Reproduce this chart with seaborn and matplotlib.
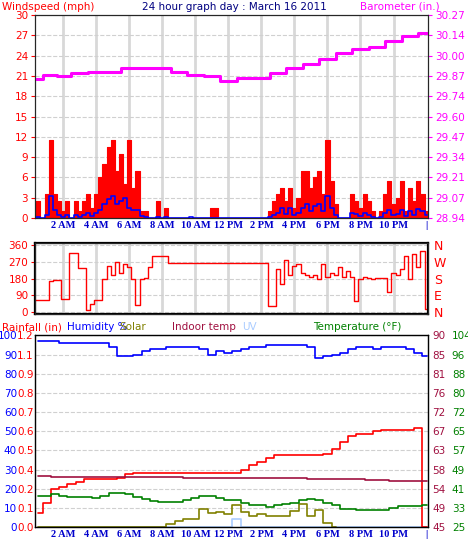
"""
24 hour weather graph, March 16 2011 - rebuilt with seaborn/matplotlib.
"""
import numpy as np
import matplotlib
matplotlib.use("Agg")
import matplotlib.pyplot as plt
import seaborn as sns

# ---- data: wind / direction at 15 min steps (0.25 .. 24 h) ----
t15 = np.arange(1, 97) * 0.25
gust = [0, 2.5, 0, 3.5, 11.5, 3.5, 2.5, 1, 2.5, 0, 2.5, 1, 2.5, 3.5, 1.5, 3.5,
        6, 8, 10.5, 11.5, 7, 9.5, 5, 11.5, 4.5, 7, 1, 1, 0, 0, 2.5, 0,
        1.5, 0, 0, 0, 0, 0, 0, 0, 0, 0, 0, 1.5, 1.5, 0, 0, 0,
        0, 0, 0, 0, 0, 0, 0, 0, 0, 1, 2.5, 3.5, 4.5, 2.5, 4.5, 1.5,
        3, 7, 7, 4.5, 6, 7, 3.5, 11.5, 5.5, 2, 0, 0, 0, 3.5, 2.5, 1.5,
        3.5, 2.5, 1, 0, 1, 3.5, 5.5, 2, 3, 5.5, 1, 4.5, 2.5, 5.5, 3.5, 1]
avg_wind = [0, 0.2, 0, 0.5, 3.3, 1.2, 0.5, 0.2, 0.5, 0, 0.4, 0.2, 0.5, 0.8, 0.3, 0.8,
            1.2, 2, 2.8, 3.3, 2, 2.5, 3, 1.5, 1.2, 1.2, 0.3, 0.2, 0, 0, 0.2, 0,
            0.2, 0, 0, 0, 0, 0, 0.1, 0, 0, 0, 0, 0, 0, 0, 0, 0,
            0, 0, 0, 0, 0, 0, 0, 0, 0, 0.2, 0.5, 0.8, 1.5, 0.6, 1.5, 0.5,
            0.8, 1.5, 2, 1, 1.8, 2, 1, 3.2, 1.5, 0.5, 0, 0, 0, 0.8, 0.6, 0.3,
            0.8, 0.4, 0.2, 0, 0.2, 0.8, 1.2, 0.5, 0.6, 1.2, 0.3, 1, 0.5, 1.3, 1, 0.5]
wind_dir = [65, 65, 65, 65, 170, 175, 175, 70, 70, 315, 315, 235, 235, 10, 45, 65,
            65, 180, 250, 200, 270, 210, 260, 240, 180, 40, 180, 185, 245, 300, 300, 300,
            300, 265, 265, 265] + [265] * 20 + [
            265, 35, 35, 230, 150, 280, 200, 250, 260, 210, 200, 190, 200, 180, 260, 190,
            210, 200, 240, 190, 220, 190, 60, 180, 190, 185, 180, 185, 185, 185, 110, 210,
            200, 230, 300, 180, 310, 240, 330, 20]

# ---- barometer, hourly (0.3 .. 24 h) ----
t_baro = [0.3, 1.3, 2, 3, 4, 5, 6, 7, 8, 9, 10, 11, 12, 13, 14, 15, 16, 17, 18, 19, 20, 21, 22, 23, 24]
baro = [29.85, 29.88, 29.87, 29.89, 29.90, 29.90, 29.92, 29.92, 29.92, 29.90, 29.88, 29.87,
        29.84, 29.86, 29.86, 29.89, 29.92, 29.95, 29.98, 30.02, 30.05, 30.06, 30.10, 30.13, 30.15]

# ---- bottom panel, 30 min steps (0.5 .. 24 h) ----
t30 = np.arange(1, 49) * 0.5
humidity = [97, 97, 97, 96, 96, 96, 96, 96, 96, 94, 89, 89, 90, 92, 93, 93,
            94, 94, 94, 94, 93, 90, 92, 91, 92, 93, 94, 94, 95, 95, 95, 95,
            95, 94, 88, 89, 90, 91, 93, 94, 94, 93, 94, 94, 94, 93, 91, 89]
rainfall = [0.09, 0.15, 0.24, 0.25, 0.27, 0.28, 0.30, 0.30, 0.30, 0.30, 0.31, 0.33, 0.34, 0.34, 0.34, 0.34,
            0.34, 0.34, 0.34, 0.34, 0.34, 0.34, 0.34, 0.34, 0.34, 0.36, 0.39, 0.41, 0.43, 0.45, 0.45, 0.45,
            0.45, 0.45, 0.45, 0.46, 0.49, 0.53, 0.57, 0.58, 0.58, 0.60, 0.61, 0.61, 0.61, 0.61, 0.62, 0.0]
indoor = [56.9, 56.9, 56.8, 56.8, 56.8, 56.8, 56.8, 56.8, 56.8, 56.8, 56.7, 56.7, 56.7, 56.7, 56.7, 56.7,
          56.7, 56.7, 56.6, 56.6, 56.6, 56.6, 56.6, 56.6, 56.6, 56.6, 56.6, 56.6, 56.5, 56.5, 56.5, 56.5,
          56.5, 56.4, 56.4, 56.4, 56.4, 56.3, 56.3, 56.2, 56.1, 56.0, 56.0, 55.9, 55.9, 55.9, 55.9, 55.9]
temperature = [37.8, 38, 38.5, 37.7, 37.3, 37.3, 37.3, 37, 37.8, 39, 39.2, 38.6, 37.5, 36.5, 35.8, 35.2,
               35.2, 35.3, 36, 37, 38, 37.8, 37, 36.2, 36, 35, 34.2, 34, 33.5, 34, 34.5, 35,
               36, 36.4, 36.2, 35, 34, 32.5, 32.5, 32, 32, 32, 32, 32.8, 33.8, 33.6, 33.8, 34.2]
solar = [0] * 16 + [1.5, 3, 4.5, 4.5, 9.5, 7.5, 8, 7, 11.5, 8, 6, 7, 6, 6, 6, 8.5,
                    12, 6, 9, 2, 0] + [None] * 11
uv = [0] * 24 + [4.5] + [0] * 23

hour_ticks = list(range(2, 23, 2)) + [24]
hour_labels = ["2 AM", "4 AM", "6 AM", "8 AM", "10 AM", "12 PM", "2 PM", "4 PM",
               "6 PM", "8 PM", "10 PM", "|"]

sns.set_style("white")
plt.rcParams["font.family"] = ["DejaVu Sans"]
FS = 7.5
XFONT = dict(family="Liberation Serif", weight="bold", size=7.5, color="#0000cc")

fig = plt.figure(figsize=(4.68, 5.59), dpi=100)
L, W = 0.075, 0.84


def style_time_axis(ax, vgrid=True, labels=True):
    ax.set_xlim(0.3, 24.1)
    ax.set_xticks(hour_ticks)
    if labels:
        ax.set_xticklabels(hour_labels, **XFONT)
    else:
        ax.set_xticklabels([])
    ax.tick_params(axis="x", length=0, pad=2)
    if vgrid:
        for h in range(2, 23, 2):
            ax.axvline(h, color="#d8d8d8", lw=2, zorder=0)
    for s in ax.spines.values():
        s.set_color("black")


# ---- top panel: wind + barometer ----
ax1 = fig.add_axes([L, 0.61, W, 0.363])
style_time_axis(ax1)
ax1.fill_between(t15, gust, step="mid", color="red", lw=0.8, zorder=2)
ax1.step(t15, avg_wind, where="mid", color="blue", lw=1.2, zorder=3)
ax1.set_ylim(0, 30)
ax1.set_yticks(range(0, 31, 3))
ax1.yaxis.grid(True, ls="--", color="#d0d0d0", lw=0.8)
ax1.tick_params(axis="y", colors="red", labelsize=FS, length=3, direction="out", left=True, pad=2)
ax1b = ax1.twinx()
sns.lineplot(x=t_baro, y=baro, ax=ax1b, color="magenta", lw=2.2, drawstyle="steps-mid")
ax1b.set_ylim(28.94, 30.27)
ax1b.set_yticks(np.linspace(28.94, 30.27, 11))
ax1b.set_yticklabels(["28.94", "29.07", "29.21", "29.34", "29.47", "29.60",
                      "29.74", "29.87", "30.00", "30.14", "30.27"])
ax1b.tick_params(axis="y", colors="magenta", labelsize=FS, length=3, direction="out", pad=2)
ax1b.set_ylabel("")
fig.text(0.005, 0.997, "Windspeed (mph)", color="red", fontsize=FS, va="top")
fig.text(0.5, 0.997, "24 hour graph day : March 16 2011", color="#000080", fontsize=FS,
         va="top", ha="center")
fig.text(0.94, 0.997, "Barometer (in.)", color="magenta", fontsize=FS, va="top", ha="right")

# ---- middle panel: wind direction ----
ax2 = fig.add_axes([L, 0.438, W, 0.127])
style_time_axis(ax2, labels=False)
ax2.step(t15, wind_dir, where="mid", color="red", lw=1)
ax2.set_ylim(-10, 370)
ax2.set_yticks([0, 90, 180, 270, 360])
ax2.yaxis.grid(True, ls="--", color="#d0d0d0", lw=0.8)
ax2.tick_params(axis="y", colors="red", labelsize=FS, length=3, direction="out", left=True, pad=2)
for s in ax2.spines.values():
    s.set_linewidth(1.6)
ax2b = ax2.twinx()
ax2b.set_ylim(-10, 370)
ax2b.set_yticks([0, 90, 180, 270, 360])
ax2b.set_yticklabels(["N", "E", "S", "W", "N"], fontsize=9)
ax2b.tick_params(axis="y", colors="red", length=0, pad=4)

# ---- bottom panel ----
ax3 = fig.add_axes([L, 0.057, W, 0.343])
style_time_axis(ax3, vgrid=False)
ax3.set_ylim(0, 100)
ax3.set_yticks(range(0, 101, 10))
ax3.yaxis.grid(True, ls="--", color="#d0d0d0", lw=0.8)
ax3.tick_params(axis="y", colors="blue", labelsize=FS, length=0, pad=13, left=True)
sns.lineplot(x=t30, y=uv, ax=ax3, color="#aaccff", lw=1.2, drawstyle="steps-mid")
sns.lineplot(x=t30, y=solar, ax=ax3, color="#808000", lw=1.2, drawstyle="steps-mid")
sns.lineplot(x=t30, y=humidity, ax=ax3, color="blue", lw=1.2, drawstyle="steps-mid")
ax3.set_ylabel("")

ax_rain = ax3.twinx()
ax_rain.yaxis.tick_left()
ax_rain.plot(t30, rainfall, color="red", lw=1.2, drawstyle="steps-mid")
ax_rain.set_ylim(0, 1.2)
ax_rain.set_yticks(np.linspace(0, 1.2, 11))
ax_rain.set_yticklabels(["0.0", "0.1", "0.2", "0.4", "0.5", "0.6", "0.7", "0.8", "0.9", "1.1", "1.2"])
ax_rain.tick_params(axis="y", colors="red", labelsize=FS, length=0, pad=1)

ax_in = ax3.twinx()
ax_in.plot(t30, indoor, color="#a01040", lw=1.2, drawstyle="steps-mid")
ax_in.set_ylim(45, 90)
ax_in.set_yticks(np.linspace(45, 90, 11))
ax_in.set_yticklabels(["45", "49", "54", "58", "63", "67", "72", "76", "81", "85", "90"])
ax_in.tick_params(axis="y", colors="#a01040", labelsize=FS, length=0, pad=3)

ax_t = ax3.twinx()
ax_t.plot(t30, temperature, color="green", lw=1.2, drawstyle="steps-mid")
ax_t.set_ylim(25, 104)
ax_t.set_yticks(np.linspace(25, 104, 11))
ax_t.set_yticklabels(["25", "33", "41", "49", "57", "65", "72", "80", "88", "96", "104"])
ax_t.tick_params(axis="y", colors="green", labelsize=FS, length=0, pad=17)
for a in (ax_rain, ax_in, ax_t):
    for s in a.spines.values():
        s.set_color("black")

yh = 0.415
fig.text(0.005, yh, "Rainfall (in)", color="red", fontsize=FS, va="center")
fig.text(0.143, yh, "Humidity %", color="blue", fontsize=FS, va="center")
fig.text(0.255, yh, "Solar", color="#808000", fontsize=FS, va="center")
fig.text(0.368, yh, "Indoor temp", color="#a01040", fontsize=FS, va="center")
fig.text(0.518, yh, "UV", color="#aaccff", fontsize=FS, va="center")
fig.text(0.668, yh, "Temperature (°F)", color="green", fontsize=FS, va="center")

fig.savefig("out.png", dpi=100)
